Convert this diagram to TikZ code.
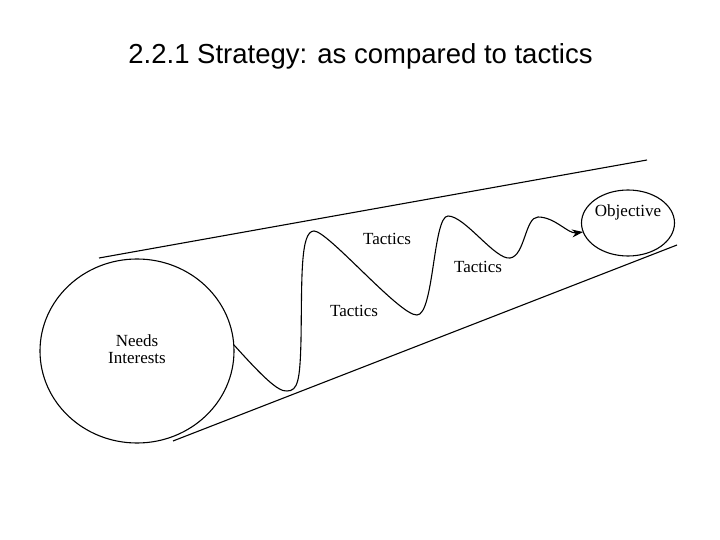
\documentclass[tikz,border=0pt]{standalone}
\usepackage{fontspec}
\setmainfont{Liberation Serif}
\newfontfamily\titlefont{Liberation Sans}
\usetikzlibrary{shapes.geometric,arrows.meta}
\tikzset{
  lbl/.style={font=\fontsize{17}{17}\selectfont, inner sep=0pt, align=center},
  ttl/.style={font=\titlefont\fontsize{27.5}{30}\selectfont, inner sep=0pt, anchor=base},
  oval/.style={draw, ellipse, line width=1.1pt, inner sep=0pt},
  edge/.style={line width=1.1pt},
}
\begin{document}
\begin{tikzpicture}[x=1pt,y=-1pt]
\path[use as bounding box, fill=white] (0,0) rectangle (720,540);
\node[ttl] (title) at (360.5,64) {2.2.1 Strategy: as compared to tactics};
\node[oval, minimum width=194pt, minimum height=184pt] (needs) at (137,351) {};
\node[lbl] (needstext) at (137,349) {Needs\\Interests};
\node[oval, minimum width=93pt, minimum height=66pt] (obj) at (628,223) {};
\node[lbl] (objtext) at (628,212) {Objective};
\coordinate (t1) at (99,258);
\coordinate (t2) at (647,160);
\coordinate (b1) at (173,441);
\coordinate (b2) at (677,245);
\draw[edge] (t1) -- (t2);
\draw[edge] (b1) -- (b2);
\coordinate (w0) at (234,345);
\coordinate (w1) at (287,391);
\coordinate (w2) at (301,340);
\coordinate (w3) at (314,231);
\coordinate (w4) at (417,315);
\coordinate (w5) at (448,216);
\coordinate (w6) at (510,258);
\coordinate (w7) at (538,217);
\coordinate (w8) at (583,232);
\draw[edge, -{Stealth[length=11pt,width=8pt]}] (w0)
  .. controls (262,376) and (278,392) .. (w1)
  .. controls (298,391) and (300,380) .. (w2)
  .. controls (302,280) and (300,231) .. (w3)
  .. controls (328,231) and (400,316) .. (w4)
  .. controls (434,315) and (433,216) .. (w5)
  .. controls (465,216) and (495,260) .. (w6)
  .. controls (525,256) and (525,217) .. (w7)
  .. controls (555,217) and (568,234) .. (w8);
\node[lbl] (tac1) at (387,239) {Tactics};
\node[lbl] (tac2) at (478,267) {Tactics};
\node[lbl] (tac3) at (354,311) {Tactics};
\end{tikzpicture}
\end{document}
